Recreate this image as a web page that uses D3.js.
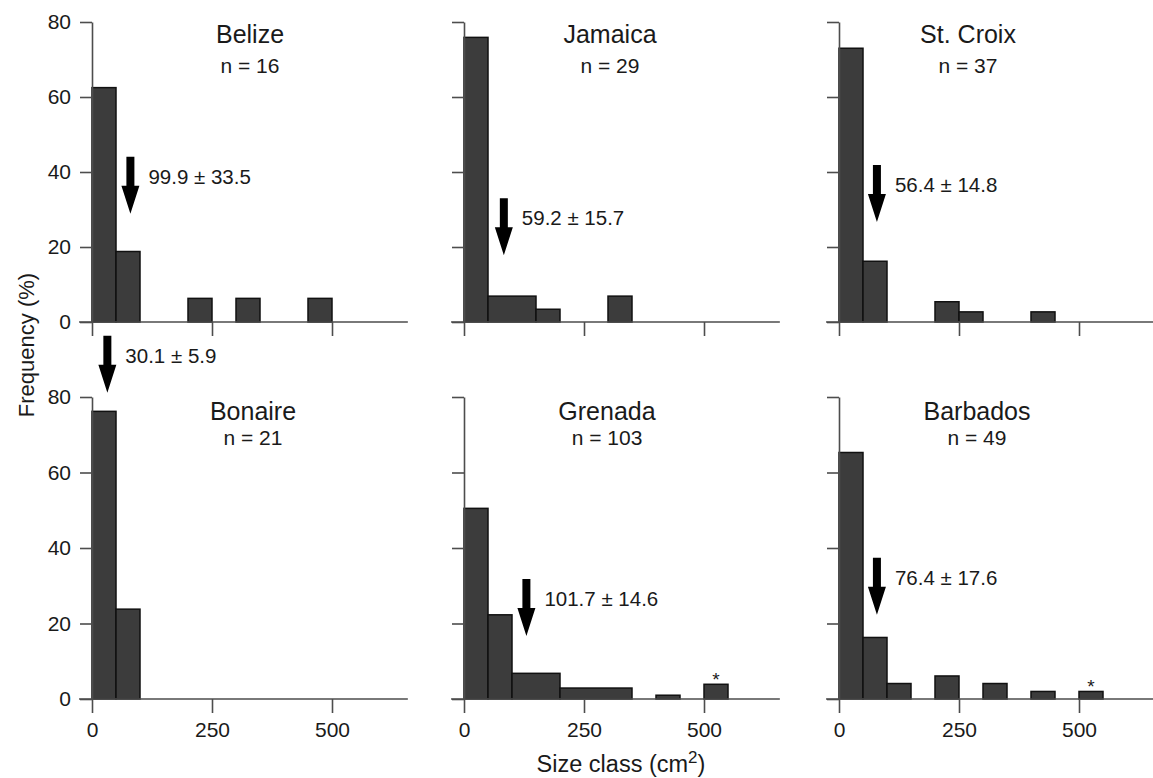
<!DOCTYPE html>
<html>
<head>
<meta charset="utf-8">
<script src="https://cdn.jsdelivr.net/npm/d3@7"></script>
<style>
  body { margin: 0; background: #fff; }
  svg { display: block; font-family: "Liberation Sans", Arial, Helvetica, sans-serif; }
  text { fill: #1a1a1a; }
</style>
</head>
<body>
<svg id="chart" width="1153" height="778"></svg>
<script>
// size classes (cm2) - lower edge of each 50 cm2 bin
const sizeClasses = [0, 50, 100, 150, 200, 250, 300, 350, 400, 450, 500];
const binWidth = 50;

const sites = ["Belize", "Jamaica", "St. Croix", "Bonaire", "Grenada", "Barbados"];
const sampleN = [16, 29, 37, 21, 103, 49];

// frequency (%) per size class
const belize   = [62.5, 18.8, 0, 0, 6.3, 0, 6.3, 0, 0, 6.3, 0];
const jamaica  = [75.9, 6.9, 6.9, 3.4, 0, 0, 6.9, 0, 0, 0, 0];
const stCroix  = [73.0, 16.2, 0, 0, 5.4, 2.7, 0, 0, 2.7, 0, 0];
const bonaire  = [76.2, 23.8, 0, 0, 0, 0, 0, 0, 0, 0, 0];
const grenada  = [50.5, 22.3, 6.8, 6.8, 2.9, 2.9, 2.9, 0, 1.0, 0, 3.9];
const barbados = [65.3, 16.3, 4.1, 0, 6.1, 0, 4.1, 0, 2.0, 0, 2.0];
const frequencies = [belize, jamaica, stCroix, bonaire, grenada, barbados];

// mean size +- SE, and where the arrow points (size, frequency of tip)
const meanLabels = ["99.9 ± 33.5", "59.2 ± 15.7", "56.4 ± 14.8", "30.1 ± 5.9", "101.7 ± 14.6", "76.4 ± 17.6"];
const arrowSize = [80, 83, 79, 32, 130, 79];
const arrowTip  = [28.9, 17.8, 26.7, 81.1, 16.7, 22.3];
const starredClass = [null, null, null, null, 500, 500];

const yTicks = [0, 20, 40, 60, 80];
const xTicks = [0, 250, 500];

/* layout */
const colX = [92, 464, 839];
const rowTop = [22, 397];
const rowH = [300, 302];
const titleDx = [158, 146, 129, 161, 143, 138];
const titleY = [21, 23];
const nY = [51, 48];

const svg = d3.select('#chart');
const x = d3.scaleLinear().domain([0, 500]).range([0, 240]);

sites.forEach((site, i) => {
    let col = i % 3, row = Math.floor(i / 3);
    let h = rowH[row];
    let y = d3.scaleLinear().domain([0, 80]).range([h, 0]);
    let g = svg.append('g').attr('transform', `translate(${colX[col]},${rowTop[row]})`);

    // merge neighbouring classes of equal height into one block (as in the figure)
    let runs = [];
    frequencies[i].forEach((v, k) => {
        if (v === 0) return;
        let last = runs[runs.length - 1];
        if (last && last.end === sizeClasses[k] && last.v === v) last.end += binWidth;
        else runs.push({ start: sizeClasses[k], end: sizeClasses[k] + binWidth, v: v });
    });

    g.selectAll('rect.bar')
        .data(runs)
        .join('rect')
        .attr('class', 'bar')
        .attr('x', d => x(d.start))
        .attr('y', d => y(d.v))
        .attr('width', d => x(d.end) - x(d.start))
        .attr('height', d => h - y(d.v))
        .attr('fill', '#3c3c3c')
        .attr('stroke', '#111')
        .attr('stroke-width', 1.5);

    // axes
    let yAxis = d3.axisLeft(y).tickValues(yTicks).tickSize(12).tickPadding(9).tickSizeOuter(0);
    if (col > 0) yAxis.tickFormat('');
    let ya = g.append('g').call(yAxis);

    let xAxis = d3.axisBottom(x).tickValues(xTicks).tickSize(14).tickPadding(9);
    if (row === 0) xAxis.tickFormat('');
    let xa = g.append('g').attr('transform', `translate(0,${h})`).call(xAxis);
    xa.select('.domain').remove();
    xa.append('line')
        .attr('x1', x(-27)).attr('x2', x(658))
        .attr('stroke', '#4d4d4d').attr('stroke-width', 1.6);

    [ya, xa].forEach(a => {
        a.attr('font-family', null).attr('font-size', null);
        a.selectAll('.domain, .tick line').attr('stroke', '#4d4d4d').attr('stroke-width', 1.6);
        a.selectAll('.tick text').attr('font-size', 21).attr('fill', '#1a1a1a');
    });

    // titles
    g.append('text')
        .attr('x', titleDx[i]).attr('y', titleY[row])
        .attr('text-anchor', 'middle').attr('font-size', 25)
        .text(site);
    g.append('text')
        .attr('x', titleDx[i]).attr('y', nY[row])
        .attr('text-anchor', 'middle').attr('font-size', 21)
        .text(`n = ${sampleN[i]}`);

    // mean arrow
    let ax = x(arrowSize[i]), ty = y(arrowTip[i]);
    let pts = [[ax - 4, ty - 57], [ax + 4, ty - 57], [ax + 4, ty - 28], [ax + 9, ty - 28],
               [ax, ty], [ax - 9, ty - 28], [ax - 4, ty - 28]];
    g.append('path')
        .attr('d', d3.line()(pts) + 'Z')
        .attr('fill', '#000');
    g.append('text')
        .attr('x', ax + 18).attr('y', ty - 30)
        .attr('font-size', 20.5)
        .text(meanLabels[i]);

    // asterisk over the largest class
    if (starredClass[i] !== null) {
        let k = sizeClasses.indexOf(starredClass[i]);
        g.append('text')
            .attr('x', x(starredClass[i] + binWidth / 2))
            .attr('y', y(frequencies[i][k]) + 2)
            .attr('text-anchor', 'middle').attr('font-size', 19)
            .text('*');
    }
});

// shared axis titles
svg.append('text')
    .attr('transform', 'translate(34,345) rotate(-90)')
    .attr('text-anchor', 'middle').attr('font-size', 22)
    .text('Frequency (%)');

let xt = svg.append('text')
    .attr('x', 621).attr('y', 772)
    .attr('text-anchor', 'middle').attr('font-size', 23.5);
xt.append('tspan').text('Size class (cm');
xt.append('tspan').attr('dy', -9).attr('font-size', 17).text('2');
xt.append('tspan').attr('dy', 9).text(')');
</script>
</body>
</html>
